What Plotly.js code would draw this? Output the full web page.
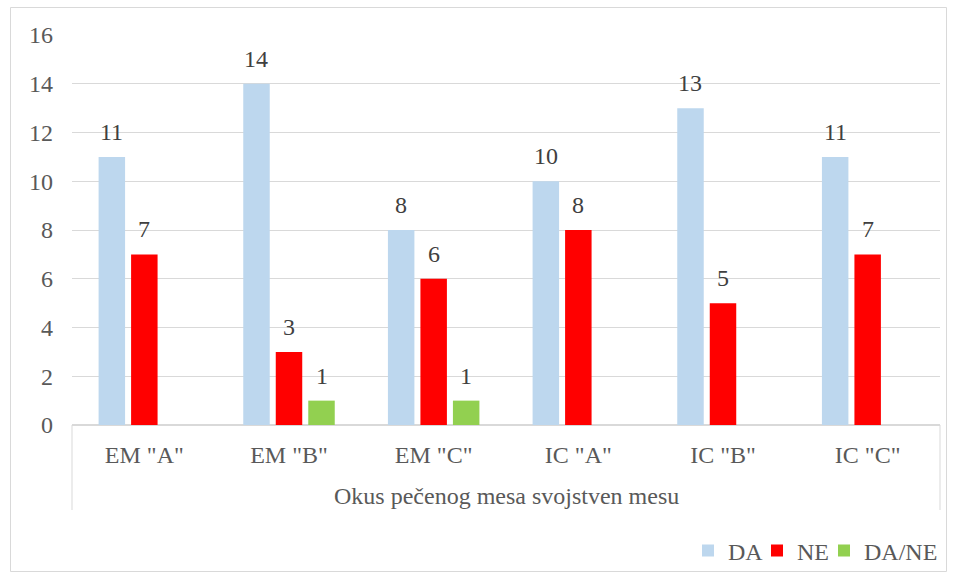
<!DOCTYPE html>
<html>
<head>
<meta charset="utf-8">
<script src="https://cdn.plot.ly/plotly-3.0.1.min.js"></script>
<style>
html,body{margin:0;padding:0;background:#fff;}
#chart{width:957px;height:578px;}
</style>
</head>
<body>
<div id="chart"></div>
<script>
var categories = ['EM "A"', 'EM "B"', 'EM "C"', 'IC "A"', 'IC "B"', 'IC "C"'];
var seriesNames = ['DA', 'NE', 'DA/NE'];
var daValues = [11, 14, 8, 10, 13, 11];
var neValues = [7, 3, 6, 8, 5, 7];
var daneValues = [null, 1, 1, null, null, null];
var groupLabel = 'Okus pečenog mesa svojstven mesu';
var yTicks = [0, 2, 4, 6, 8, 10, 12, 14, 16];

var colors = ['#BDD7EE', '#FF0000', '#92D050'];
var allValues = [daValues, neValues, daneValues];
var FONT = 'Liberation Serif, Times New Roman, serif';
var FS = 24;
var W = 957, H = 578;
var M = {l: 72, r: 17, t: 35, b: 153, autoexpand: false};
var plotW = W - M.l - M.r, plotH = H - M.t - M.b;
var BARGAP = 0.326, BARGROUPGAP = 0.185;
var legendNames = ['legend', 'legend2', 'legend3'];
var legendLeftPx = [688, 757, 824];

var traces = allValues.map(function (vals, i) {
  return {
    type: 'bar', name: seriesNames[i], x: categories, y: vals,
    legend: legendNames[i],
    marker: {color: colors[i], line: {width: 0}},
    hoverinfo: 'x+y+name'
  };
});

function px2x(px) { return (px - M.l) / plotW; }
function py2y(py) { return (M.t + plotH - py) / plotH; }

var catW = plotW / categories.length;
var slot = catW * (1 - BARGAP) / allValues.length;
var annotations = [];
allValues.forEach(function (vals, i) {
  vals.forEach(function (v, j) {
    if (v === null || v === undefined) return;
    annotations.push({
      x: categories[j], y: v, xref: 'x', yref: 'y',
      text: String(v), showarrow: false,
      xshift: (i - (allValues.length - 1) / 2) * slot,
      yanchor: 'bottom', yshift: 10,
      font: {family: FONT, size: FS, color: '#404040'}
    });
  });
});
annotations.push({
  xref: 'paper', yref: 'paper', x: 0.5, y: py2y(496),
  text: groupLabel, showarrow: false, xanchor: 'center', yanchor: 'middle',
  font: {family: FONT, size: FS, color: '#595959'}
});

var shapes = [
  {type: 'rect', xref: 'paper', yref: 'paper', x0: px2x(10.5), x1: px2x(946.5), y0: py2y(571.5), y1: py2y(7.5),
   line: {color: '#d9d9d9', width: 1}, layer: 'below'},
  {type: 'line', xref: 'paper', yref: 'paper', x0: 0, x1: 0, y0: 0, y1: py2y(510),
   line: {color: '#d9d9d9', width: 1}},
  {type: 'line', xref: 'paper', yref: 'paper', x0: 1, x1: 1, y0: 0, y1: py2y(510),
   line: {color: '#d9d9d9', width: 1}}
];

var layout = {
  width: W, height: H,
  margin: M,
  paper_bgcolor: '#ffffff', plot_bgcolor: '#ffffff',
  barmode: 'group', bargap: BARGAP, bargroupgap: BARGROUPGAP,
  font: {family: FONT, size: FS, color: '#595959'},
  xaxis: {
    type: 'category', categoryorder: 'array', categoryarray: categories,
    showgrid: false, showline: false, zeroline: false, ticks: '',
    tickfont: {family: FONT, size: FS, color: '#595959'},
    ticklabelstandoff: 13, automargin: false, fixedrange: true
  },
  yaxis: {
    range: [0, 16], tickvals: yTicks, ticktext: yTicks.map(String),
    showgrid: true, gridcolor: '#d9d9d9', gridwidth: 1,
    zeroline: true, zerolinecolor: '#d9d9d9', zerolinewidth: 1.5,
    showline: false, ticks: '',
    tickfont: {family: FONT, size: FS, color: '#595959'},
    ticklabelstandoff: 18, automargin: false, fixedrange: true
  },
  showlegend: true,
  annotations: annotations,
  shapes: shapes
};
legendNames.forEach(function (ln, i) {
  layout[ln] = {
    orientation: 'h', xref: 'paper', yref: 'paper',
    x: px2x(legendLeftPx[i]), xanchor: 'left', y: py2y(551), yanchor: 'middle',
    font: {family: FONT, size: FS, color: '#595959'},
    itemwidth: 30, bgcolor: 'rgba(0,0,0,0)'
  };
});

Plotly.newPlot('chart', traces, layout, {displayModeBar: false, staticPlot: true});
</script>
</body>
</html>
